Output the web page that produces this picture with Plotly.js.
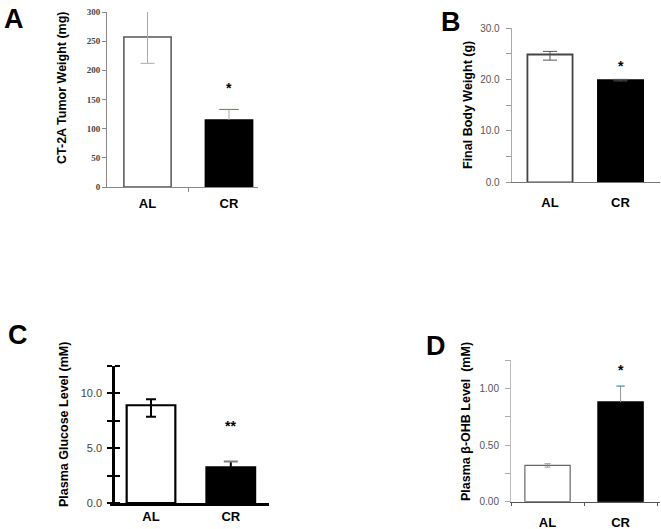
<!DOCTYPE html>
<html>
<head>
<meta charset="utf-8">
<script src="https://cdn.plot.ly/plotly-3.0.1.min.js"></script>
<style>
  html, body { margin: 0; padding: 0; background: #fff; }
  #chart { width: 661px; height: 529px; }
</style>
</head>
<body>
<div id="chart"></div>
<script>
// values
const cats = ['AL', 'CR'];

const tumorMean = [257, 115];        // CT-2A tumor weight (mg)
const tumorErrUp = [45, 18];
const tumorErrDown = [45, 0];

const bodyMean = [24.9, 19.9];       // final body weight (g)
const bodyErrUp = [0.6, 0.15];
const bodyErrDown = [1.1, 0.15];

const glucoseMean = [8.9, 3.25];     // plasma glucose (mM)
const glucoseErrUp = [0.55, 0.52];
const glucoseErrDown = [1.05, 0];

const ohbMean = [0.32, 0.88];        // plasma b-OHB (mM)
const ohbErrUp = [0.015, 0.14];
const ohbErrDown = [0.015, 0];

const starText = ['*', '*', '**', '*'];
const starY = [170, 22.7, 7.0, 1.16];

const W = 661, H = 529;
const px = v => v / W;
const py = v => 1 - v / H;

// two bars per panel, one trace each (own outline / error colour)
// a one-sided error (down == 0) is drawn as a whisker on top of the bar, no lower cap
function pair(mean, up, down, xa, ya, st) {
  let out = [];
  cats.forEach((c, i) => {
    let bar = {
      type: 'bar',
      x: [c],
      y: [mean[i]],
      xaxis: xa,
      yaxis: ya,
      width: st.width,
      marker: {
        color: i === 0 ? '#ffffff' : '#000000',
        line: { color: i === 0 ? st.outline : '#000000', width: st.lw }
      },
      hoverinfo: 'skip'
    };
    if (down[i] > 0) {
      bar.error_y = {
        type: 'data', symmetric: false,
        array: [up[i]], arrayminus: [down[i]],
        color: st.err, thickness: st.errW, width: st.cap
      };
      out.push(bar);
    } else {
      out.push(bar);
      out.push({
        type: 'scatter', mode: 'markers',
        x: [c], y: [mean[i] + up[i]],
        xaxis: xa, yaxis: ya,
        marker: { symbol: 'line-ew-open', size: st.cap * 2,
                  line: { color: st.err, width: st.errW } },
        error_y: { type: 'data', symmetric: false, array: [0], arrayminus: [up[i]],
                   color: st.err, thickness: st.errW, width: 0 },
        hoverinfo: 'skip'
      });
    }
  });
  return out;
}

let traces = [].concat(
  pair(tumorMean, tumorErrUp, tumorErrDown, 'x', 'y',
       { width: 0.58, outline: '#555', lw: 1.5, err: '#aaa', errW: 1, cap: 7 }),
  pair(bodyMean, bodyErrUp, bodyErrDown, 'x2', 'y2',
       { width: 0.64, outline: '#444', lw: 1.8, err: '#555', errW: 1, cap: 7 }),
  pair(glucoseMean, glucoseErrUp, glucoseErrDown, 'x3', 'y3',
       { width: 0.61, outline: '#000', lw: 2.2, err: '#000', errW: 2, cap: 5 }),
  pair(ohbMean, ohbErrUp, ohbErrDown, 'x4', 'y4',
       { width: 0.62, outline: '#666', lw: 1.2, err: '#999', errW: 1, cap: 3 })
);

const catFont = { family: 'Liberation Sans, Arial', size: 13, color: '#000', weight: 'bold' };

function xAxis(dom, range, yanchor, extra) {
  return Object.assign({
    type: 'category', domain: dom, range: range, anchor: yanchor,
    showline: true, showgrid: false, zeroline: false, fixedrange: true,
    tickfont: catFont
  }, extra);
}

function yAxis(dom, range, xanchor, vals, text, extra) {
  return Object.assign({
    domain: dom, range: range, anchor: xanchor,
    showline: true, showgrid: false, zeroline: false, fixedrange: true,
    tickmode: 'array', tickvals: vals, ticktext: text, ticks: 'outside'
  }, extra);
}

const glucoseTicks = [0, 2.5, 5, 7.5, 10, 12.5];

let layout = {
  width: W, height: H,
  margin: { l: 0, r: 0, t: 0, b: 0 },
  paper_bgcolor: '#fff', plot_bgcolor: 'rgba(0,0,0,0)',
  showlegend: false, barmode: 'overlay',

  // A
  xaxis: xAxis([px(107), px(258)], [-0.497, 1.356], 'y',
    { linecolor: '#888', linewidth: 1, ticks: 'outside', tickson: 'boundaries',
      ticklen: 4, tickcolor: '#888', ticklabelstandoff: 4 }),
  yaxis: yAxis([py(187), py(12)], [0, 300], 'x',
    [0, 50, 100, 150, 200, 250, 300], ['0', '50', '100', '150', '200', '250', '300'],
    { linecolor: '#888', linewidth: 1, ticklen: 4, tickcolor: '#888',
      tickfont: { family: 'Liberation Serif, serif', size: 9, color: '#444', weight: 'bold' } }),

  // B
  xaxis2: xAxis([px(511.7), px(660)], [-0.543, 1.56], 'y2',
    { linecolor: '#777', linewidth: 1, ticks: '', ticklabelstandoff: 8 }),
  yaxis2: yAxis([py(182.3), py(28.3)], [0, 30], 'x2',
    [0, 5, 10, 15, 20, 25, 30], ['0.0', '', '10.0', '', '20.0', '', '30.0'],
    { linecolor: '#aaa', linewidth: 1, ticklen: 5, tickcolor: '#999',
      ticklabelstandoff: 4,
      tickfont: { family: 'Liberation Sans, Arial', size: 10, color: '#555' } }),

  // C
  xaxis3: xAxis([px(110), px(269)], [-0.514, 1.479], 'y3',
    { linecolor: '#000', linewidth: 2.5, ticks: '', ticklabelstandoff: 0 }),
  yaxis3: yAxis([py(503), py(365.7)], [0, 12.5], 'free',
    glucoseTicks, ['0.0', '', '5.0', '', '10.0', ''],
    { position: px(113.3), linecolor: '#000', linewidth: 2.5, ticklen: 5,
      tickwidth: 2, tickcolor: '#000', ticklabelstandoff: 3,
      // inward half of the crossing ticks
      minor: { tickmode: 'array', tickvals: glucoseTicks.map(v => v + 0.001),
               ticks: 'inside', ticklen: 5, tickwidth: 2, tickcolor: '#000', showgrid: false },
      tickfont: { family: 'Liberation Sans, Arial', size: 11, color: '#444' } }),

  // D
  xaxis4: xAxis([px(511), px(660)], [-0.5, 1.54], 'y4',
    { linecolor: '#555', linewidth: 1, ticks: 'outside', tickson: 'boundaries',
      ticklen: 3, tickcolor: '#555', ticklabelstandoff: 9 }),
  yaxis4: yAxis([py(501.7), py(360)], [0, 1.25], 'x4',
    [0, 0.25, 0.5, 0.75, 1, 1.25], ['0.00', '', '0.50', '', '1.00', ''],
    { linecolor: '#bbb', linewidth: 1, ticklen: 5, tickcolor: '#aaa',
      ticklabelstandoff: 4,
      tickfont: { family: 'Liberation Sans, Arial', size: 10, color: '#555' } }),

  annotations: []
};

// panel letters
const letters = [['A', 14, 19], ['B', 451, 22], ['C', 18, 335], ['D', 436, 346]];
letters.forEach(([t, x, y]) => layout.annotations.push({
  text: '<b>' + t + '</b>', xref: 'paper', yref: 'paper', x: px(x), y: py(y),
  showarrow: false, xanchor: 'center', yanchor: 'middle',
  font: { family: 'Liberation Sans, Arial', size: 27, color: '#000' }
}));

// y-axis titles
const titles = [
  ['CT-2A Tumor Weight (mg)', 62, 88],
  ['Final Body Weight (g)', 468, 105],
  ['Plasma Glucose Level (mM)', 64, 425],
  ['Plasma β-OHB Level  (mM)', 466, 422]
];
titles.forEach(([t, x, y]) => layout.annotations.push({
  text: '<b>' + t + '</b>', xref: 'paper', yref: 'paper', x: px(x), y: py(y),
  showarrow: false, textangle: -90, xanchor: 'center', yanchor: 'middle',
  font: { family: 'Liberation Sans, Arial', size: 12.5, color: '#000' }
}));

// significance stars
['', '2', '3', '4'].forEach((s, i) => layout.annotations.push({
  text: '<b>' + starText[i] + '</b>', xref: 'x' + s, yref: 'y' + s,
  x: cats[1], y: starY[i], showarrow: false,
  font: { family: 'Liberation Sans, Arial', size: 14, color: '#000' }
}));

Plotly.newPlot('chart', traces, layout, { staticPlot: true, displayModeBar: false });
</script>
</body>
</html>
